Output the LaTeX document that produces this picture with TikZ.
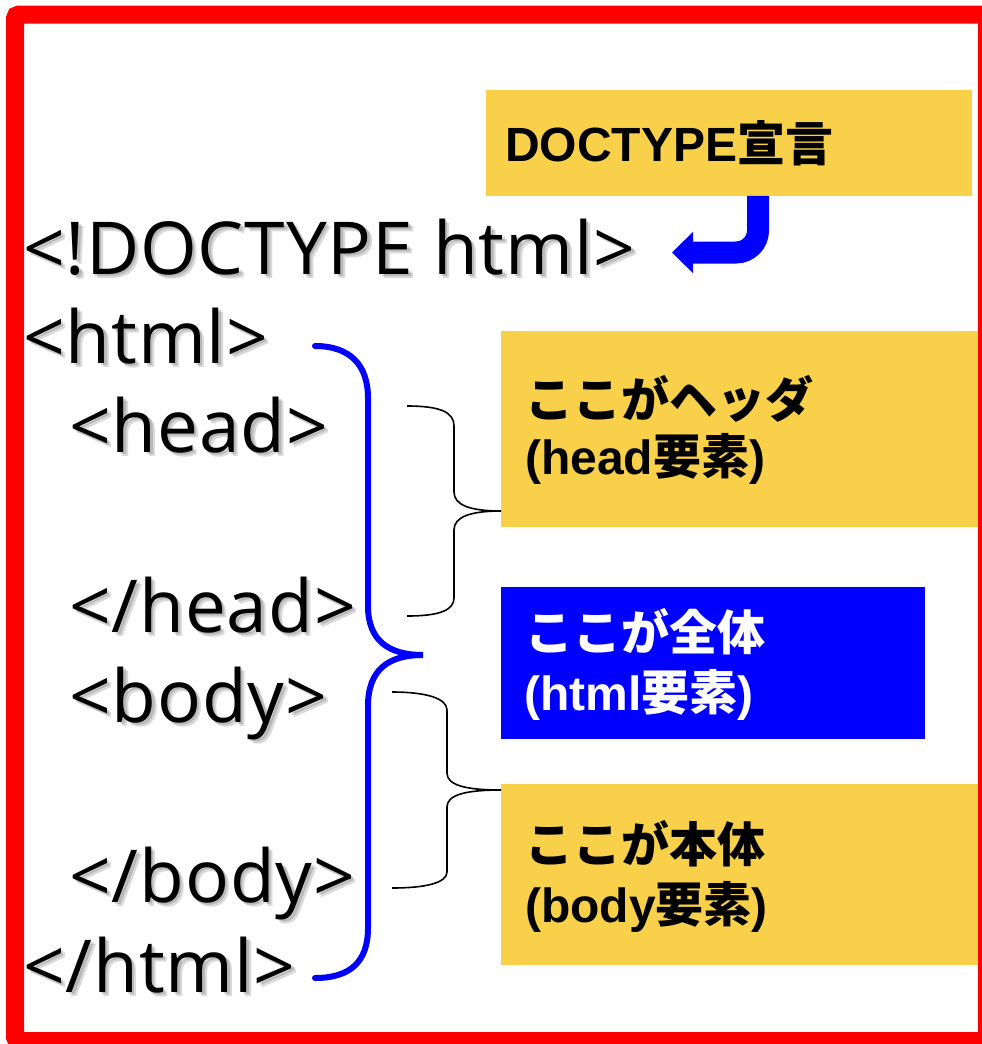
\documentclass[tikz,border=0pt]{standalone}
\usepackage{fontspec}
\usetikzlibrary{arrows.meta}
\setmainfont{Liberation Sans}
\newfontfamily\codefont[LetterSpace=1.2]{Open Sans}
\newfontfamily\latb{Liberation Sans}
\newfontfamily\cjk{Noto Sans CJK JP}
\definecolor{boxyellow}{RGB}{249,208,74}
\definecolor{pureblue}{RGB}{0,0,255}
\definecolor{framered}{RGB}{255,0,0}
\newcommand\jp[1]{{\cjk\bfseries #1}}
\newcommand\lt[1]{{\latb\bfseries #1}}
\tikzset{
  code/.style={font=\codefont\fontsize{73}{80}\selectfont, inner sep=0pt, anchor=base west, text=black},
  codeshade/.style={code, text=black, text opacity=0.15},
  panel/.style={draw=none, inner sep=0pt, anchor=north west},
  boxlabel/.style={font=\fontsize{48}{52}\selectfont, inner sep=0pt, anchor=base west},
  bigbrace/.style={draw=pureblue, line width=6pt, line cap=round},
  smallbrace/.style={draw=black, line width=1.6pt},
}
% one line of source code with a soft drop shadow
\newcommand\codeline[4]{%
  \node[codeshade] (#1a) at (#2+2.5,#3+2.5) {#4};
  \node[codeshade] (#1b) at (#2+4.5,#3+4.5) {#4};
  \node[code] (#1) at (#2,#3) {#4};
}
\begin{document}
\begin{tikzpicture}[x=1pt, y=-1pt]
\useasboundingbox (0,0) rectangle (982,1044);
\clip (0,0) rectangle (982,1044);
\fill[white] (0,0) rectangle (982,1044);

% labelled panels
\node[panel, fill=boxyellow, minimum width=486pt, minimum height=105.5pt] (dtbox) at (486,90) {};
\node[panel, fill=boxyellow, minimum width=489pt, minimum height=196.5pt] (headbox) at (501,330.5) {};
\node[panel, fill=pureblue, minimum width=424pt, minimum height=152pt] (htmlbox) at (501,586.5) {};
\node[panel, fill=boxyellow, minimum width=489pt, minimum height=181pt] (bodybox) at (501,783.5) {};

\node[boxlabel] (dtlabel) at (505,161) {\lt{DOCTYPE}\jp{宣言}};
\node[boxlabel] (headl1) at (525,417) {\jp{ここがヘッダ}};
\node[boxlabel] (headl2) at (525,474) {\lt{(head}\jp{要素}\lt{)}};
\node[boxlabel, text=white] (htmll1) at (525,650) {\jp{ここが全体}};
\node[boxlabel, text=white] (htmll2) at (524,710) {\lt{(html}\jp{要素}\lt{)}};
\node[boxlabel] (bodyl1) at (525,862) {\jp{ここが本体}};
\node[boxlabel] (bodyl2) at (525,922) {\lt{(body}\jp{要素}\lt{)}};

% source code
\codeline{doctype}{23}{274}{<!DOCTYPE html>}
\codeline{htmlopen}{23}{363}{<html>}
\codeline{headopen}{69}{452}{<head>}
\codeline{headclose}{69}{632}{</head>}
\codeline{bodyopen}{69}{722}{<body>}
\codeline{bodyclose}{69}{902}{</body>}
\codeline{htmlclose}{23}{992}{</html>}

% bent arrow from the DOCTYPE panel to its line
\coordinate (arrstart) at (dtbox.south -| 758,0);
\coordinate (arrend) at (672,252.5);
\draw[pureblue, line width=22pt, rounded corners=22pt,
  -{Triangle[length=21pt, width=40pt]}] (arrstart) |- (arrend);

% brace around the whole html element
\draw[bigbrace] (315,346) .. controls (350,346) and (368,365) .. (368,398)
  -- (368,606) .. controls (368,640) and (388,655) .. (423,655)
  .. controls (388,655) and (368,670) .. (368,706)
  -- (368,928) .. controls (368,962) and (350,978) .. (315,978);

% brace for the head element
\draw[smallbrace] (407,406) .. controls (440,406) and (454,412) .. (454,426)
  -- (454,492) .. controls (454,505) and (470,511) .. (headbox.west |- 0,511)
  .. controls (470,511) and (454,517) .. (454,530)
  -- (454,598) .. controls (454,610) and (440,616) .. (407,616);

% brace for the body element
\draw[smallbrace] (392,692) .. controls (425,692) and (447,698) .. (447,710)
  -- (447,773) .. controls (447,785) and (465,790) .. (bodybox.west |- 0,790)
  .. controls (465,790) and (447,795) .. (447,807)
  -- (447,872) .. controls (447,883) and (425,888) .. (392,888);

% red frame
\draw[framered, line width=18pt, rounded corners=4pt] (15,14.5) rectangle (987,1041);
\end{tikzpicture}
\end{document}
